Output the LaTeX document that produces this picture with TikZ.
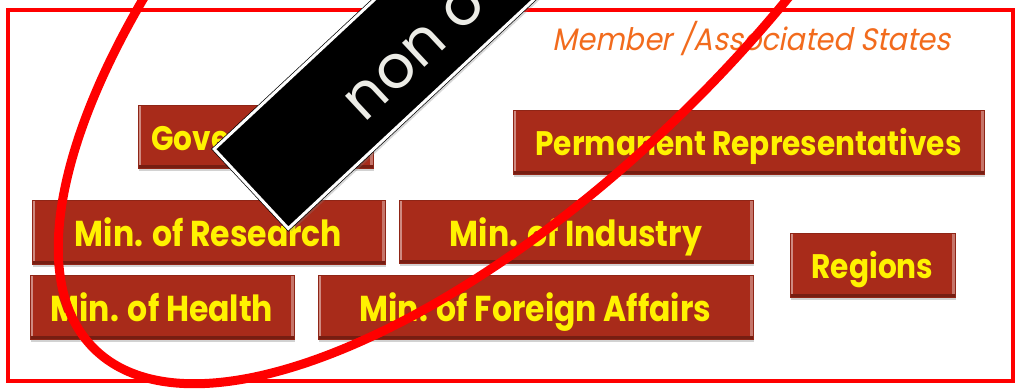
\documentclass[tikz,border=0pt]{standalone}
\usepackage{fontspec}
\usetikzlibrary{shadows,calc}
\newfontfamily\boxfont[FakeStretch=0.87]{Poppins}
\newfontfamily\minfont[FakeStretch=0.875]{Poppins}
\newfontfamily\titlefont[FakeSlant=0.2,FakeStretch=0.925]{Poppins}
\newfontfamily\bannerfont{Poppins}
\definecolor{boxred}{HTML}{A82B1A}
\definecolor{frame}{HTML}{FF0000}
\definecolor{titleorange}{HTML}{F26B1D}
\definecolor{bannertext}{HTML}{ECECE6}
\tikzset{
    bevel/.style={shape=rectangle, fill=boxred, draw=boxred!85!black, line width=0.4pt,
        text=yellow, inner sep=0pt, text depth=0pt,
        drop shadow={opacity=0.35, shadow xshift=1pt, shadow yshift=-3pt},
        path picture={
            \fill[boxred!55!white] (path picture bounding box.north west) rectangle ([xshift=3pt]path picture bounding box.south west);
            \fill[boxred!65!white] ([xshift=-3pt]path picture bounding box.north east) rectangle (path picture bounding box.south east);
            \fill[boxred!70!black] ([yshift=3pt]path picture bounding box.south west) rectangle (path picture bounding box.south east);
        }},
    statebox/.style={bevel, text height=27.7pt, font=\boxfont\bfseries\fontsize{34}{34}\selectfont},
    minbox/.style={bevel, text height=29pt, font=\minfont\bfseries\fontsize{36}{36}\selectfont},
    bannerbox/.style={shape=rectangle, fill=black, draw=black, double=white, double distance=3pt,
        line width=0.7pt, drop shadow={opacity=0.3, shadow xshift=3pt, shadow yshift=-3pt}},
}
\begin{document}
\begin{tikzpicture}[x=1pt,y=-1pt]
        \path[use as bounding box, fill=white] (0,0) rectangle (1015,391);
        \clip (0,0) rectangle (1015,391);
        \draw[frame, line width=4pt] (8,9.5) rectangle (1012.5,381);

        \node[anchor=base, text=titleorange, font=\titlefont\fontsize{31}{31}\selectfont] (title) at (751.5,50) {Member /Associated States};

        \node[statebox, minimum width=235, minimum height=63] (gov) at (255.5,136.5) {Governments};
        \node[statebox, minimum width=471, minimum height=64] (perm) at (748.5,142) {Permanent Representatives};
        \node[minbox, minimum width=353, minimum height=64] (research) at (208.5,232) {Min. of Research};
        \node[minbox, minimum width=354, minimum height=63] (industry) at (576,231.5) {Min. of Industry};
        \node[statebox, minimum width=165, minimum height=64] (regions) at (872.5,265) {Regions};
        \node[minbox, minimum width=264, minimum height=64] (health) at (162,307) {Min. of Health};
        \node[minbox, minimum width=435, minimum height=64] (foreign) at (535.5,307) {Min. of Foreign Affairs};

        \draw[frame, line width=9pt] (518,-76) ellipse [x radius=600, y radius=250, rotate=45];

        \node[bannerbox, anchor=west, rotate=43, minimum width=420, minimum height=108.6] (banner) at (251,189) {};
        \node[anchor=west, rotate=43, inner sep=0pt, text=bannertext, font=\bannerfont\fontsize{60}{60}\selectfont] (non) at ($(banner.west)!128pt!(banner.east)+(9,9.5)$) {non o};
    \end{tikzpicture}
\end{document}
